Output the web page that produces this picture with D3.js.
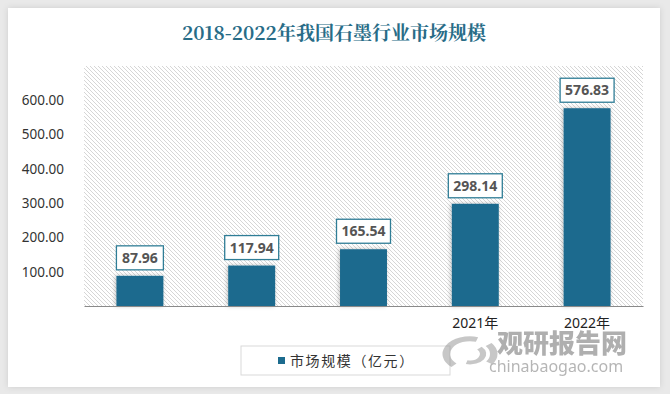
<!DOCTYPE html>
<html>
<head>
<meta charset="utf-8">
<script src="https://cdn.jsdelivr.net/npm/d3@7"></script>
<style>
  html, body { margin: 0; padding: 0; background: #e9e9e9; }
  svg { display: block; }
</style>
</head>
<body>
<div id="chart"></div>
<script>
// data
const years = ['2018年', '2019年', '2020年', '2021年', '2022年'];
const marketSize = [87.96, 117.94, 165.54, 298.14, 576.83];
const yTicks = [100, 200, 300, 400, 500, 600];
const visibleYears = ['2021年', '2022年']; // the earlier year labels are blanked out in the source
const title = '2018-2022年我国石墨行业市场规模';
const seriesName = '市场规模（亿元）';

const width = 670;
const height = 394;
const barColor = '#1c6b8e';
const font = '"Noto Sans", "Noto Sans CJK SC", sans-serif';

const svg = d3
  .select('#chart')
  .append('svg')
  .attr('width', width)
  .attr('height', height);

const defs = svg.append('defs');

const hatch = defs
  .append('pattern')
  .attr('id', 'hatch')
  .attr('patternUnits', 'userSpaceOnUse')
  .attr('width', 4)
  .attr('height', 4);
hatch.append('rect').attr('width', 4).attr('height', 4).attr('fill', '#fff');
hatch
  .append('path')
  .attr('d', 'M-1,-1 L5,5 M3,-1 L5,1 M-1,3 L1,5')
  .attr('stroke', '#d6d6d6')
  .attr('stroke-width', 1);

const cardShadow = defs.append('filter').attr('id', 'card-shadow')
  .attr('x', -0.05).attr('y', -0.05).attr('width', 1.1).attr('height', 1.1);
cardShadow.append('feDropShadow').attr('dx', 0).attr('dy', 0)
  .attr('stdDeviation', 3).attr('flood-color', '#000').attr('flood-opacity', 0.12);

const barShadow = defs.append('filter').attr('id', 'bar-shadow')
  .attr('x', -0.3).attr('y', -0.1).attr('width', 1.6).attr('height', 1.2);
barShadow.append('feDropShadow').attr('dx', -1).attr('dy', 0)
  .attr('stdDeviation', 2).attr('flood-color', '#000').attr('flood-opacity', 0.25);

// card
svg.append('rect')
  .attr('x', 8).attr('y', 8)
  .attr('width', 652).attr('height', 379)
  .attr('fill', '#fff')
  .attr('filter', 'url(#card-shadow)');

// title
svg.append('text')
  .attr('x', 334).attr('y', 40)
  .attr('text-anchor', 'middle')
  .style('font-family', '"Noto Serif CJK SC", "Noto Sans CJK SC", serif')
  .style('font-weight', 700)
  .style('font-size', '19px')
  .attr('fill', '#286c87')
  .text(title);

// scales
const plot = { left: 84, right: 643, top: 66, bottom: 306 };

const x = d3.scaleBand()
  .domain(years)
  .range([plot.left, plot.right])
  .paddingInner(0.58)
  .paddingOuter(0.29);

const y = d3.scaleLinear()
  .domain([0, 700])
  .range([plot.bottom, plot.top]);

// hatched plot area
svg.append('rect')
  .attr('x', plot.left).attr('y', plot.top)
  .attr('width', plot.right - plot.left)
  .attr('height', plot.bottom - plot.top)
  .attr('fill', 'url(#hatch)');

// y axis labels
const yAxis = svg.append('g')
  .attr('transform', `translate(${plot.left},0)`)
  .call(d3.axisLeft(y).tickValues(yTicks).tickFormat(d3.format('.2f')).tickSize(0).tickPadding(20));
yAxis.select('.domain').remove();
yAxis.selectAll('text')
  .style('font-family', font)
  .style('font-size', '13.5px')
  .attr('fill', '#333');

// bars
svg.append('g')
  .selectAll('rect')
  .data(marketSize)
  .join('rect')
  .attr('x', (d, i) => x(years[i]))
  .attr('y', d => y(d))
  .attr('width', x.bandwidth())
  .attr('height', d => y(0) - y(d))
  .attr('fill', barColor)
  .attr('filter', 'url(#bar-shadow)');

// x axis
const xAxis = svg.append('g')
  .attr('transform', `translate(0,${plot.bottom})`)
  .call(d3.axisBottom(x).tickSize(0).tickPadding(12));
xAxis.select('.domain').attr('stroke', '#8a8a8a').attr('stroke-width', 1.2);
xAxis.selectAll('text')
  .style('font-family', font)
  .style('font-size', '14px')
  .attr('fill', '#222')
  .attr('opacity', d => (visibleYears.includes(d) ? 1 : 0));

// value labels
const labels = svg.append('g')
  .selectAll('g')
  .data(marketSize)
  .join('g')
  .attr('transform', (d, i) => `translate(${x(years[i]) + x.bandwidth() / 2},${y(d) - 6})`);

labels.append('text')
  .attr('text-anchor', 'middle')
  .attr('y', -7)
  .style('font-family', font)
  .style('font-weight', 700)
  .style('font-size', '14px')
  .attr('fill', '#555')
  .text(d => d3.format('.2f')(d));

labels.insert('rect', 'text')
  .each(function () {
    const t = this.parentNode.querySelector('text').getBBox();
    const w = Math.max(x.bandwidth(), t.width + 10);
    d3.select(this)
      .attr('x', -w / 2)
      .attr('y', -24)
      .attr('width', w)
      .attr('height', 24);
  })
  .attr('fill', '#fff')
  .attr('stroke', '#2f7d96')
  .attr('stroke-width', 1.3);

// legend
const legend = svg.append('g').attr('transform', 'translate(241,346)');
legend.append('rect')
  .attr('width', 209).attr('height', 29)
  .attr('fill', '#fff')
  .attr('stroke', '#d9d9d9');
legend.append('rect')
  .attr('x', 37).attr('y', 11)
  .attr('width', 7).attr('height', 7)
  .attr('fill', barColor);
legend.append('text')
  .attr('x', 49).attr('y', 20)
  .style('font-family', '"Noto Sans CJK SC", sans-serif')
  .style('font-size', '14px')
  .style('letter-spacing', '1.6px')
  .attr('fill', '#333')
  .text(seriesName);

// watermark
const mark = svg.append('g').attr('opacity', 0.55).attr('pointer-events', 'none');
const swirl = d3.arc();
[
  { r0: 16, r1: 22, a0: -2.4, a1: 0.3 },
  { r0: 8, r1: 13, a0: 0.8, a1: 3.4 },
  { r0: 16, r1: 22, a0: 0.9, a1: 2.2 }
].forEach(s => {
  mark.append('path')
    .attr('transform', 'translate(470,354) scale(1.25,0.8)')
    .attr('d', swirl({ innerRadius: s.r0, outerRadius: s.r1, startAngle: s.a0, endAngle: s.a1 }))
    .attr('fill', '#9a9a9a');
});
mark.append('text')
  .attr('x', 497).attr('y', 353)
  .style('font-family', '"Noto Sans CJK SC", sans-serif')
  .style('font-weight', 900)
  .style('font-size', '26px')
  .attr('fill', '#6e6e6e')
  .text('观研报告网');
mark.append('text')
  .attr('x', 489).attr('y', 372)
  .style('font-family', font)
  .style('font-size', '16px')
  .attr('fill', '#7a7a7a')
  .text('chinabaogao.com');
</script>
</body>
</html>
